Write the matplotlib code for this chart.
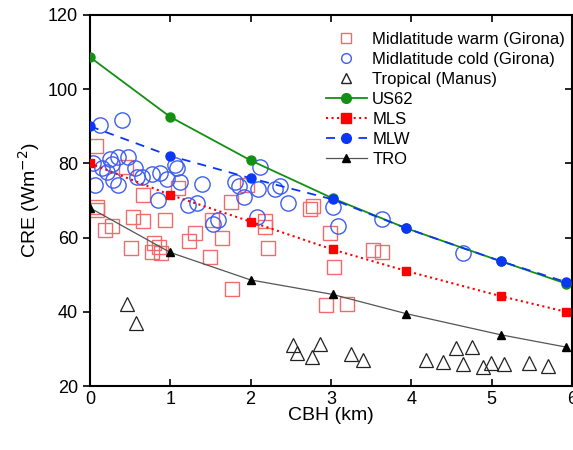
import numpy as np
import matplotlib.pyplot as plt
from matplotlib.lines import Line2D

plt.rcParams['font.family'] = ['Liberation Sans', 'DejaVu Sans']

# model curves
lev = [0, 1, 2, 3.02, 3.94, 5.12, 5.93]
us62 = [108.6, 92.5, 80.8, 70.6, 62.5, 53.6, 47.6]
mls = [80.0, 71.5, 64.3, 56.8, 51.0, 44.2, 40.0]
mlw = [90.0, 82.0, 76.0, 70.3, 62.5, 53.6, 48.0]
tro = [68.0, 56.0, 48.6, 44.7, 39.5, 33.8, 30.5]

# observations, midlatitude warm (Girona)
warm_x = [0.07, 0.45, 0.66, 1.10, 0.09, 1.75, 1.96, 2.78, 2.74, 0.09, 0.54, 0.66,
          0.94, 0.19, 0.27, 0.51, 0.80, 0.86, 0.77, 0.89, 1.31, 1.23, 1.50, 1.52,
          1.65, 1.77, 2.18, 2.18, 2.22, 2.99, 3.04, 2.94, 3.20, 3.53, 3.64]
warm_y = [84.7, 79.0, 71.5, 73.4, 68.2, 69.6, 74.2, 68.5, 67.7, 67.4, 65.5, 64.5,
          64.7, 62.0, 63.1, 57.2, 58.5, 57.5, 56.1, 55.8, 61.2, 59.1, 54.8, 64.7,
          59.9, 46.1, 64.5, 62.9, 57.2, 61.2, 52.1, 41.8, 42.1, 56.7, 56.1]

# observations, midlatitude cold (Girona)
cold_x = [0.12, 0.40, 0.04, 0.25, 0.35, 0.47, 0.27, 0.15, 0.21, 0.56, 0.06, 0.29,
          0.35, 0.59, 0.65, 0.77, 0.87, 0.96, 1.06, 1.08, 1.12, 1.40, 0.85, 1.22,
          1.33, 2.12, 1.81, 1.85, 1.92, 2.09, 2.31, 2.36, 2.47, 1.60, 1.53, 2.08,
          3.03, 3.09, 3.64, 4.65]
cold_y = [90.3, 91.7, 80.1, 81.2, 81.7, 81.7, 79.8, 78.8, 77.7, 78.8, 74.2, 75.5,
          74.2, 76.3, 76.3, 77.1, 77.4, 75.8, 79.6, 78.8, 75.0, 74.4, 70.1, 68.8,
          69.3, 79.0, 75.0, 73.9, 70.9, 73.1, 73.1, 73.9, 69.3, 64.7, 63.7, 65.5,
          68.2, 63.1, 65.0, 55.8]

# observations, tropical (Manus)
trop_x = [0.46, 0.57, 2.53, 2.58, 2.77, 2.87, 3.25, 3.40, 4.18, 4.40, 4.56, 4.76,
          4.65, 4.89, 4.99, 5.16, 5.47, 5.70]
trop_y = [42.1, 37.0, 31.0, 28.9, 27.8, 31.3, 28.6, 27.0, 27.0, 26.5, 30.2, 30.5,
          25.9, 25.1, 26.2, 25.9, 26.2, 25.4]

c_warm = '#f26b6b'
c_cold = '#3d5ef0'
c_green = '#138f13'
c_red = '#ff0000'
c_blue = '#0a36f5'
c_gray = '#555555'

fig = plt.figure(figsize=(5.73, 4.5), dpi=100)
ax = fig.add_axes([0.157, 0.142, 0.841, 0.825])

ax.plot(warm_x, warm_y, 's', ms=9.5, mfc='none', mec=c_warm, mew=1.0, zorder=2)
ax.plot(cold_x, cold_y, 'o', ms=11, mfc='none', mec=c_cold, mew=1.0, zorder=2)
ax.plot(trop_x, trop_y, '^', ms=9.5, mfc='none', mec='#222222', mew=0.9, zorder=2)

ax.plot(lev, us62, '-', color=c_green, lw=1.3, marker='o', ms=6.5, zorder=3)
ax.plot(lev, mls, ':', color=c_red, lw=1.5, marker='s', ms=6, zorder=3)
ax.plot(lev, mlw, '--', color=c_blue, lw=1.3, marker='o', ms=6.5, dashes=(5, 4), zorder=4)
ax.plot(lev, tro, '-', color=c_gray, lw=0.9, marker='^', ms=5.5, mfc='black', mec='black', zorder=3)

ax.set_xlim(0, 6)
ax.set_ylim(20, 120)
ax.set_xticks(range(0, 7))
ax.set_yticks(range(20, 121, 20))
ax.tick_params(axis='both', labelsize=13, length=5, width=1.2)
ax.tick_params(axis='x', direction='in', top=True)
ax.tick_params(axis='y', direction='out', right=True)
for t in ax.yaxis.get_major_ticks():
    t.tick2line.set_marker(0)  # right side ticks point inward
for s in ax.spines.values():
    s.set_linewidth(1.5)

ax.set_xlabel('CBH (km)', fontsize=14, labelpad=-1)
ax.set_ylabel('CRE (Wm$^{-2}$)', fontsize=14)

handles = [
    Line2D([], [], ls='none', marker='s', ms=7, mfc='none', mec=c_warm),
    Line2D([], [], ls='none', marker='o', ms=7, mfc='none', mec=c_cold),
    Line2D([], [], ls='none', marker='^', ms=7, mfc='none', mec='#222222'),
    Line2D([], [], ls='-', color=c_green, lw=1.3, marker='o', ms=7),
    Line2D([], [], ls=':', color=c_red, lw=1.5, marker='s', ms=7),
    Line2D([], [], ls='--', color=c_blue, lw=1.3, marker='o', ms=7, dashes=(5, 4)),
    Line2D([], [], ls='-', color=c_gray, lw=0.9, marker='^', ms=6, mfc='black', mec='black'),
]
labels = ['Midlatitude warm (Girona)', 'Midlatitude cold (Girona)', 'Tropical (Manus)',
          'US62', 'MLS', 'MLW', 'TRO']
ax.legend(handles, labels, loc='upper right', frameon=False, fontsize=12,
          handlelength=2.5, handletextpad=0.3, labelspacing=0.3,
          borderaxespad=0.5, bbox_to_anchor=(1.017, 0.995))

fig.savefig('out.png', dpi=100)
